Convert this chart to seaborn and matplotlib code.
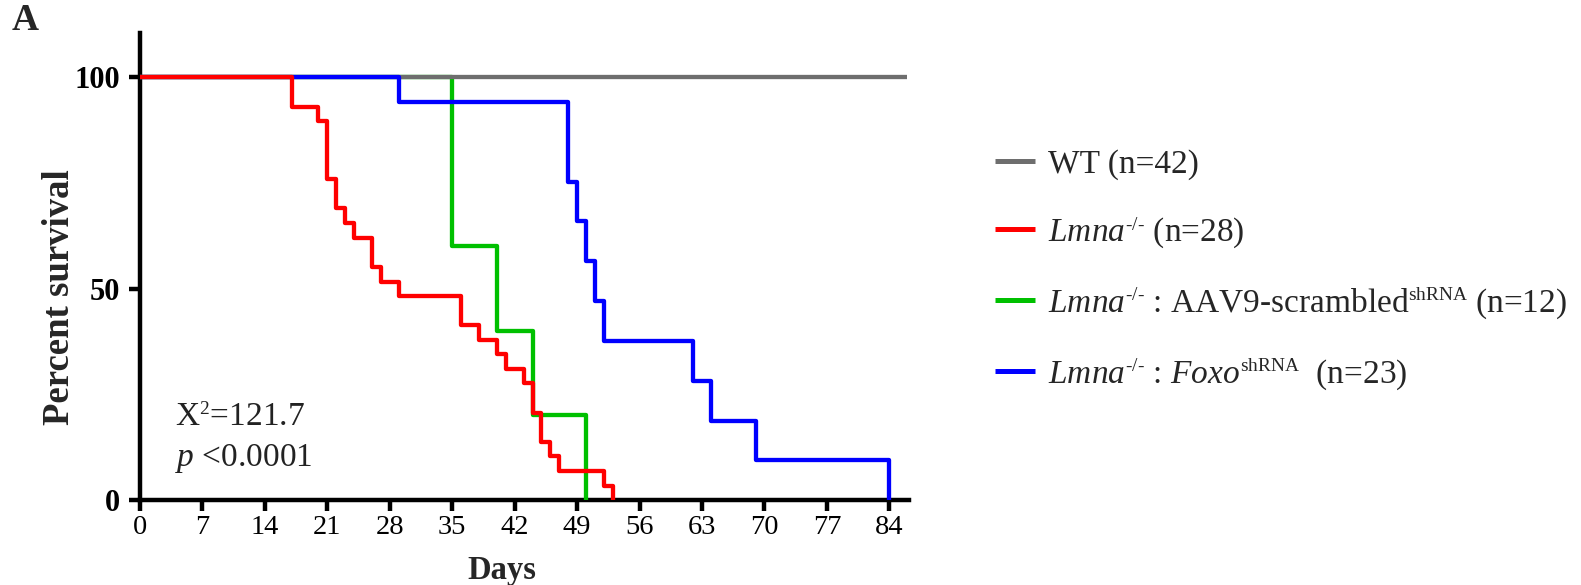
import matplotlib
matplotlib.use("Agg")
import matplotlib.pyplot as plt
import matplotlib._mathtext as _mt
import seaborn as sns
import pandas as pd

# smaller superscripts, as in the reference typesetting
_mt.SHRINK_FACTOR = 0.58

# ---- data ----
wt_days = [0, 86]
wt_pct = [100, 100]

lmna_days = [0, 17, 20, 21, 22, 23, 24, 26, 27, 29, 36, 38, 40, 41, 43, 44, 45, 46, 47, 52, 53]
lmna_pct = [100, 93.1, 89.7, 75.9, 69.0, 65.5, 62.1, 55.2, 51.7, 48.3, 41.4, 37.9,
            34.5, 31.0, 27.6, 20.7, 13.8, 10.3, 6.9, 3.4, 0]

scr_days = [0, 35, 40, 44, 50]
scr_pct = [100, 60, 40, 20, 0]

foxo_days = [0, 29, 48, 49, 50, 51, 52, 62, 64, 69, 84]
foxo_pct = [100, 94.1, 75.3, 65.9, 56.5, 47.1, 37.6, 28.2, 18.8, 9.4, 0]

labels = [
    "WT (n=42)",
    r"$\mathit{Lmna}^{\text{-/-}}$ (n=28)",
    r"$\mathit{Lmna}^{\text{-/-}}$ : AAV9-scrambled$^{\text{shRNA}}$ (n=12)",
    r"$\mathit{Lmna}^{\text{-/-}}$ : $\mathit{Foxo}^{\text{shRNA}}$  (n=23)",
]
colors = ["#6e6e6e", "#ff0000", "#00c000", "#0000ff"]
xticks = list(range(0, 85, 7))
yticks = [0, 50, 100]

sns.set_style("ticks")
plt.rcParams["font.family"] = ["Liberation Serif", "DejaVu Sans"]
plt.rcParams["mathtext.fontset"] = "custom"
plt.rcParams["mathtext.rm"] = "Liberation Serif"
plt.rcParams["mathtext.it"] = "Liberation Serif:italic"
plt.rcParams["mathtext.bf"] = "Liberation Serif:bold"

frames = []
for name, d, p in zip(labels, [wt_days, lmna_days, scr_days, foxo_days],
                      [wt_pct, lmna_pct, scr_pct, foxo_pct]):
    frames.append(pd.DataFrame({"Days": d, "pct": p, "group": name}))
df = pd.concat(frames, ignore_index=True)

W, H = 1581, 585
fig = plt.figure(figsize=(W / 100, H / 100), dpi=100)
ax = fig.add_axes([140 / W, (H - 500) / H, (909 - 140) / W, (500 - 33) / H])

lw = 3.1
draw_order = [2, 0, 3, 1]  # green, gray, blue, red (red on top)
for i in draw_order:
    sub = df[df["group"] == labels[i]]
    sns.lineplot(data=sub, x="Days", y="pct", ax=ax, color=colors[i],
                 linewidth=lw, drawstyle="steps-post", estimator=None,
                 label=labels[i], solid_capstyle="butt", zorder=3 + draw_order.index(i))

h, l = ax.get_legend_handles_labels()
ax.get_legend().remove()
lab2h = dict(zip(l, h))
leg = fig.legend([lab2h[s] for s in labels], labels, loc="upper left",
                 bbox_to_anchor=(995 / W, 1 - 149 / H), frameon=False,
                 fontsize=24, handlelength=1.2, handletextpad=0.4,
                 labelspacing=1.06, borderpad=0, borderaxespad=0)
for ln in leg.get_lines():
    ln.set_linewidth(3.6)

ax.set_xlim(0, 86.2)
ax.set_ylim(0, 110.5)
ax.set_xticks(xticks)
ax.set_yticks(yticks)
sns.despine(ax=ax)
for s in ["left", "bottom"]:
    ax.spines[s].set_linewidth(3.2)
    ax.spines[s].set_color("black")
ax.tick_params(axis="both", direction="out", length=8, width=3.2, colors="black")
ax.tick_params(axis="x", pad=3, labelsize=20.5)
ax.tick_params(axis="y", pad=6.5, labelsize=22)
for t in ax.get_yticklabels():
    t.set_fontweight("bold")

ax.set_xlabel("Days", fontsize=23.5, fontweight="bold")
ax.set_ylabel("Percent survival", fontsize=26.5, fontweight="bold")
ax.xaxis.set_label_coords(0.471, -0.117)
ax.yaxis.set_label_coords(-0.082, 0.434)

ax.text(0.0455, 0.158, r"X$^{\mathrm{2}}$=121.7", transform=ax.transAxes,
        fontsize=24, va="baseline", ha="left", color="#222222")
ax.text(0.0455, 0.0723, r"$\mathit{p}$ <0.0001", transform=ax.transAxes,
        fontsize=24, va="baseline", ha="left", color="#222222")

fig.text(12 / W, 1 - 3 / H, "A", fontsize=27, fontweight="bold", va="top", ha="left")

fig.savefig("out.png", dpi=100)
